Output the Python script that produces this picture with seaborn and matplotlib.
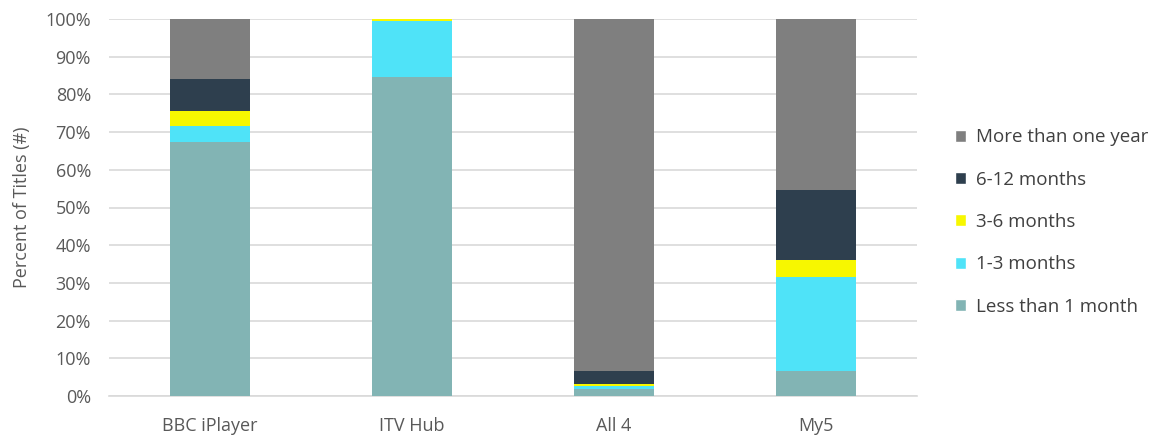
import numpy as np
import pandas as pd
import matplotlib.pyplot as plt
import seaborn as sns
from matplotlib.patches import Patch

# Data (percent of titles)
services = ['BBC iPlayer', 'ITV Hub', 'All 4', 'My5']
less_1m = [67.5, 84.5, 1.8, 6.7]
m1_3 = [4.2, 15.0, 0.9, 24.9]
m3_6 = [4.0, 0.4, 0.4, 4.5]
m6_12 = [8.3, 0.0, 3.6, 18.5]
over_1y = [16.0, 0.1, 93.3, 45.4]

series = ['Less than 1 month', '1-3 months', '3-6 months', '6-12 months', 'More than one year']
colors = ['#82B4B4', '#4FE3F8', '#F7F700', '#2E3F4E', '#7F7F7F']

df = pd.DataFrame({'service': services, series[0]: less_1m, series[1]: m1_3,
                   series[2]: m3_6, series[3]: m6_12, series[4]: over_1y})

sns.set_theme(style='white')
plt.rcParams['font.family'] = ['Open Sans', 'DejaVu Sans']

fig = plt.figure(figsize=(11.61, 4.37), dpi=100)
ax = fig.add_axes([109 / 1161, 1 - 396 / 437, 808 / 1161, 377 / 437])

# cumulative totals, drawn from the top segment down so the lower ones sit on top
cum = df[series].cumsum(axis=1)
for name, col in reversed(list(zip(series, colors))):
    sns.barplot(x=df['service'], y=cum[name], color=col, width=0.4,
                saturation=1, linewidth=0, ax=ax, zorder=3)

ax.set_ylim(0, 100)
ax.set_yticks(np.arange(0, 101, 10))
ax.set_yticklabels([f'{v}%' for v in range(0, 101, 10)])
ax.set_xlabel('')
ax.set_ylabel('Percent of Titles (#)', color='#595959', fontsize=13, labelpad=10)
ax.tick_params(axis='both', colors='#595959', labelsize=13, length=0)
ax.tick_params(axis='x', pad=15)
ax.tick_params(axis='y', pad=13)
ax.grid(axis='y', color='#D9D9D9', linewidth=1.2, zorder=0)
for s in ['top', 'right', 'left']:
    ax.spines[s].set_visible(False)
ax.spines['bottom'].set_color('#D9D9D9')
ax.spines['bottom'].set_linewidth(1.2)

handles = [Patch(facecolor=c, label=n) for n, c in zip(series, colors)][::-1]
fig.legend(handles=handles, loc='center left', bbox_to_anchor=(938 / 1161, 1 - 222 / 437),
           frameon=False, fontsize=13.5, handlelength=0.6, handleheight=0.6,
           handletextpad=0.5, labelspacing=1.3, labelcolor='#404040')

fig.savefig('out.png', dpi=100)
